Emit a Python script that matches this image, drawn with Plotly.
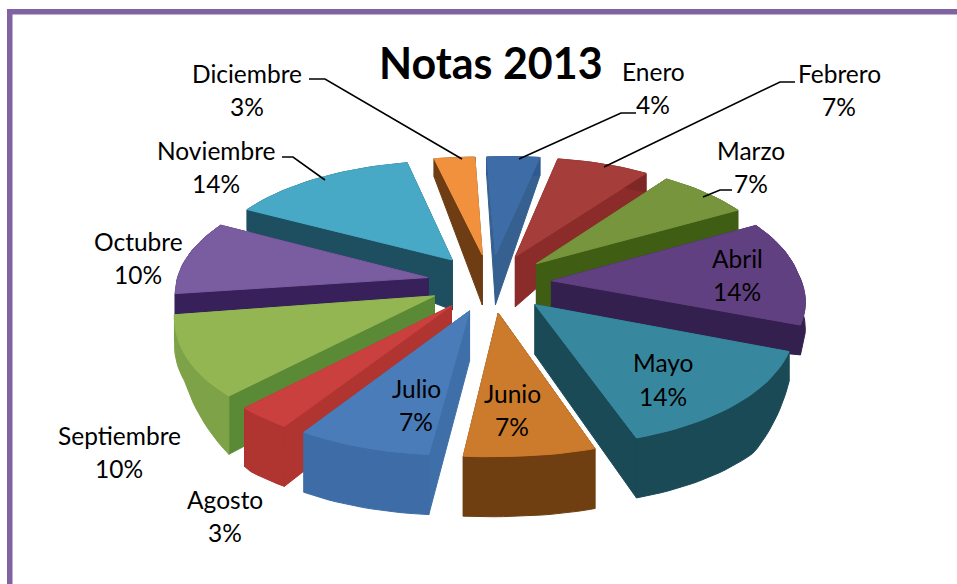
import math
import plotly.graph_objects as go

# ---- data ----
MONTHS = ["Enero", "Febrero", "Marzo", "Abril", "Mayo", "Junio", "Julio",
          "Agosto", "Septiembre", "Octubre", "Noviembre", "Diciembre"]
PCT = [4, 7, 7, 14, 14, 7, 7, 3, 10, 10, 14, 3]
TITLE = "Notas 2013"

# ---- styles ----
TOP = ["#3e6ca6", "#a53d3a", "#77953c", "#614082", "#37889f", "#cc7a2c",
       "#4a7cba", "#c9403f", "#93b653", "#7a5ca0", "#47a9c6", "#f2913d"]
RADIAL = ["#35608f", "#8b2b2a", "#3f5e14", "#34204f", "#1b4a57", "#6f3f12",
          "#3f6fa8", "#b03430", "#5a8a36", "#38205a", "#1d4f60", "#6e3d14"]
OUTER = ["#2f5a91", "#7d2826", "#3f5e14", "#34204f", "#1b4a57", "#6f3f12",
         "#3d6ca6", "#b03430", "#7ea247", "#38205a", "#1d4f60", "#6e3d14"]

# ---- label layout (pixel positions of the text centres) ----
LABEL_XY = {
    "Enero": (653, 71, 104), "Febrero": (839, 73, 106), "Marzo": (751, 150, 183),
    "Abril": (737, 258, 291), "Mayo": (663, 362, 396), "Junio": (512, 393, 426),
    "Julio": (416, 388, 421), "Agosto": (225, 499, 532), "Septiembre": (119, 435, 468),
    "Octubre": (138, 241, 274), "Noviembre": (216, 150, 183), "Diciembre": (247, 73, 106),
}
LEADERS = {
    "Enero": [(636, 113), (621, 113), (519, 159)],
    "Febrero": [(795, 82), (780, 82), (604, 167)],
    "Marzo": [(732, 190), (720, 190), (703, 197)],
    "Noviembre": [(282, 157), (293, 157), (325, 180)],
    "Diciembre": [(309, 79), (325, 79), (462, 159)],
}

# ---- projection of the tilted, exploded pie ----
CX, CY = 490, 283
A, B, P, EXPLODE = 252, 116.6, 0.126, 0.25


def project(X, Y):
    w = 1 + P * Y
    skew = -Y * (8 if Y > 0 else 25)
    sx = CX + A * X / w * (0.975 if X > 0 else 1) + skew
    sy = CY - B * Y / w
    if X > 0:
        sy -= 9 * X
    if X < 0 and Y < 0:
        sx -= 18 * X * Y
        sy += 14 * X * Y
    return sx, sy


def wall_depth(theta):
    c = math.cos(theta)
    if c >= 0:
        return 24 - 6 * c
    return 27 + 33 * min(1, max(0, (-c - 0.4) / 0.3))


def poly(fig, pts, color):
    fig.add_trace(go.Scatter(
        x=[p[0] for p in pts] + [pts[0][0]], y=[p[1] for p in pts] + [pts[0][1]],
        mode="lines", fill="toself", fillcolor=color,
        line=dict(color=color, width=1), hoverinfo="skip", showlegend=False))


fig = go.Figure()
total = sum(PCT)
wedges = []
cum = 0
for i, v in enumerate(PCT):
    a0 = 2 * math.pi * cum / total
    a1 = 2 * math.pi * (cum + v) / total
    cum += v
    wedges.append((i, a0, a1))
wedges.sort(key=lambda t: -math.cos((t[1] + t[2]) / 2))

for i, a0, a1 in wedges:
    mid = (a0 + a1) / 2
    ex, ey = EXPLODE * math.sin(mid), EXPLODE * math.cos(mid)
    n = max(3, PCT[i] * 2)
    thetas = [a0 + (a1 - a0) * k / n for k in range(n + 1)]
    apex = project(ex, ey)
    apex_low = (apex[0], apex[1] + 50)
    rim = [project(ex + math.sin(t), ey + math.cos(t)) for t in thetas]
    rim_low = [(p[0], p[1] + wall_depth(t)) for p, t in zip(rim, thetas)]
    # radial faces
    poly(fig, [apex, rim[0], rim_low[0], apex_low], RADIAL[i])
    poly(fig, [apex, rim[-1], rim_low[-1], apex_low], RADIAL[i])
    # outer wall, one smooth face
    poly(fig, rim + rim_low[::-1], OUTER[i])
    # top face
    poly(fig, [apex] + rim, TOP[i])

for name, pts in LEADERS.items():
    fig.add_trace(go.Scatter(x=[p[0] for p in pts], y=[p[1] for p in pts], mode="lines",
                             line=dict(color="#000000", width=1.6),
                             hoverinfo="skip", showlegend=False))

ann = [dict(x=491, y=62, text="<b>%s</b>" % TITLE, showarrow=False, xanchor="center",
            yanchor="middle", font=dict(family="Lato", size=43, color="#000000"))]
for name, v in zip(MONTHS, PCT):
    x, y1, y2 = LABEL_XY[name]
    for y, t in ((y1, name), (y2, "%d%%" % v)):
        ann.append(dict(x=x, y=y, text=t, showarrow=False, xanchor="center", yanchor="middle",
                        font=dict(family="Lato", size=24.5, color="#000000")))

frame = "#8064a2"
fig.update_layout(
    width=957, height=584, margin=dict(l=0, r=0, t=0, b=0),
    paper_bgcolor="#ffffff", plot_bgcolor="#ffffff", showlegend=False,
    xaxis=dict(range=[0, 957], visible=False, fixedrange=True),
    yaxis=dict(range=[584, 0], visible=False, fixedrange=True),
    annotations=ann,
    shapes=[
        dict(type="rect", x0=7, x1=958, y0=9, y1=14.5, fillcolor=frame, line=dict(width=0), layer="below"),
        dict(type="rect", x0=7, x1=12.5, y0=9, y1=584, fillcolor=frame, line=dict(width=0), layer="below"),
    ],
)
fig.write_html("out.html", post_script="document.body.style.margin='0';",
               config={"displayModeBar": False})
